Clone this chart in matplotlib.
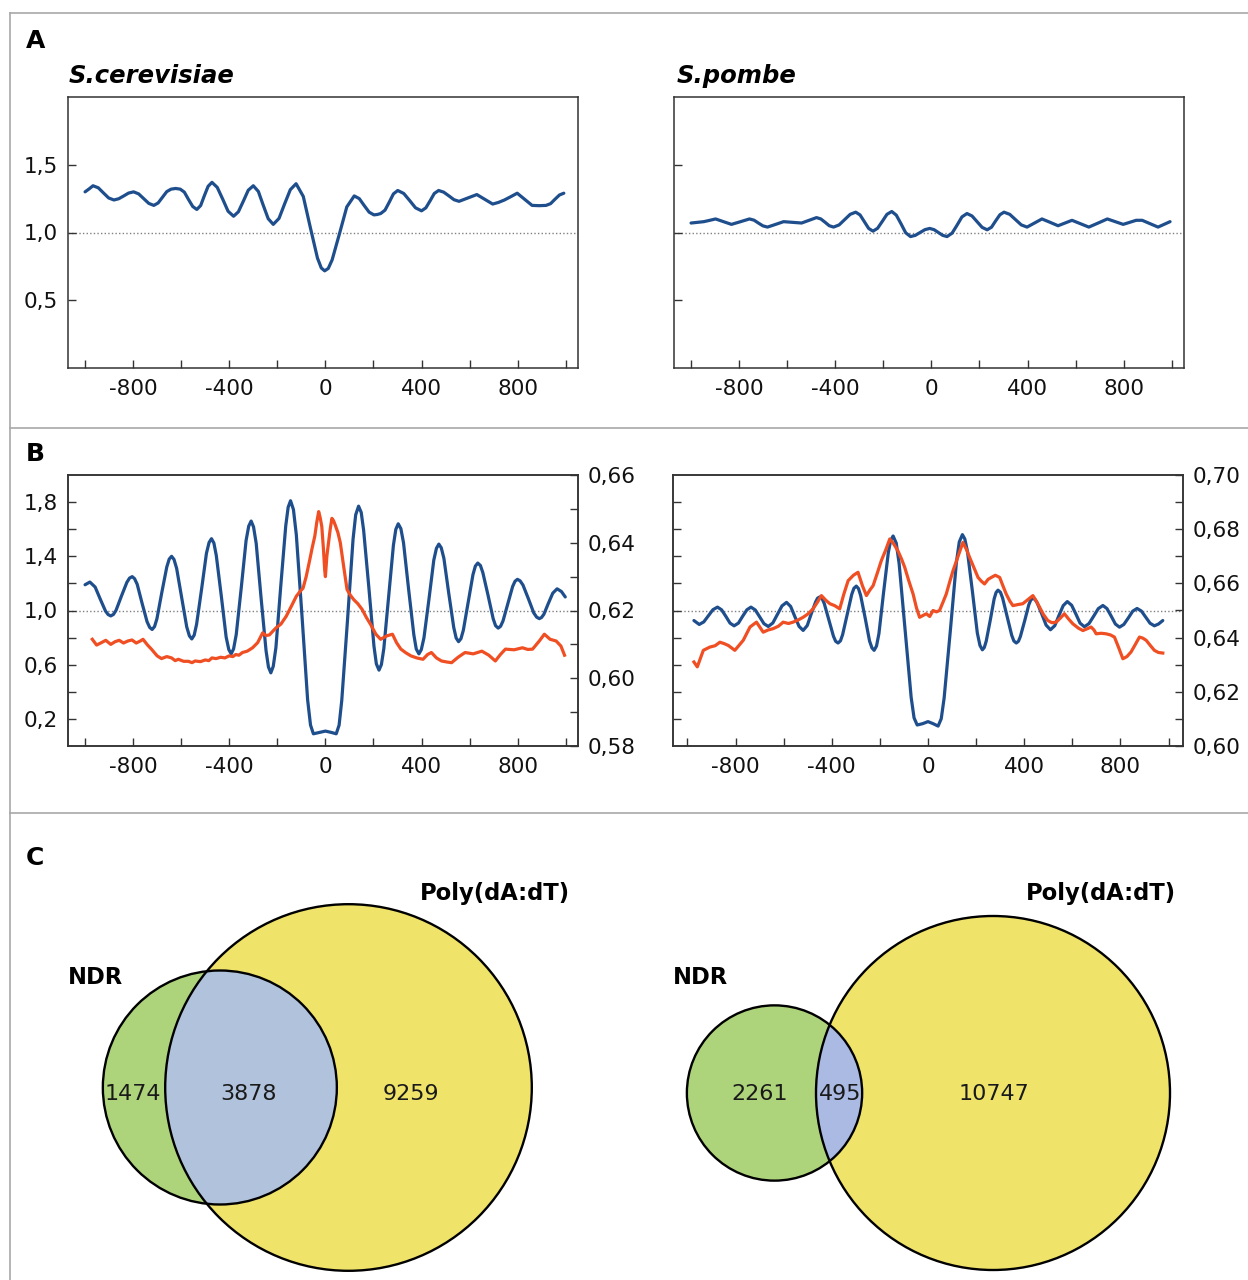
import numpy as np
import matplotlib
matplotlib.use('Agg')
import matplotlib.pyplot as plt
from matplotlib.patches import Circle

plt.rcParams['font.family'] = ['DejaVu Sans']

# ---------------- DATA ----------------
# Panel A, S.cerevisiae (position in bp, relative occupancy)
a_sc_x = [-1000, -983, -967, -945, -924, -902, -880, -860, -839, -819,
          -798, -777, -756, -735, -714, -696, -678, -660, -642, -623,
          -604, -587, -570, -552, -535, -519, -504, -488, -472, -450,
          -427, -405, -382, -362, -341, -321, -300, -279, -259, -238,
          -217, -193, -170, -146, -122, -92, -63, -33, -17, -3,
          12, 28, 59, 89, 120, 141, 161, 182, 202, 216,
          230, 248, 266, 283, 301, 326, 351, 375, 400, 418,
          436, 453, 471, 492, 514, 535, 556, 593, 630, 663,
          696, 720, 745, 772, 798, 829, 860, 890, 918, 937,
          955, 974, 992]
a_sc_y = [1.30, 1.322, 1.345, 1.330, 1.293, 1.255, 1.240, 1.249, 1.270, 1.291,
          1.300, 1.285, 1.250, 1.215, 1.200, 1.218, 1.260, 1.302, 1.320, 1.325,
          1.320, 1.298, 1.245, 1.192, 1.170, 1.199, 1.270, 1.341, 1.370, 1.333,
          1.245, 1.157, 1.120, 1.153, 1.233, 1.312, 1.345, 1.303, 1.203, 1.102,
          1.060, 1.104, 1.210, 1.316, 1.360, 1.266, 1.039, 0.811, 0.738, 0.717,
          0.735, 0.798, 0.994, 1.189, 1.270, 1.250, 1.200, 1.150, 1.130, 1.133,
          1.140, 1.165, 1.225, 1.285, 1.310, 1.288, 1.235, 1.182, 1.160, 1.182,
          1.235, 1.288, 1.310, 1.298, 1.270, 1.242, 1.230, 1.255, 1.280, 1.245,
          1.210, 1.222, 1.240, 1.265, 1.290, 1.245, 1.200, 1.198, 1.200, 1.213,
          1.245, 1.277, 1.290]

# Panel A, S.pombe
a_sp_x = [-1000, -973, -947, -922, -898, -865, -832, -794, -757, -738,
          -720, -701, -682, -648, -615, -578, -540, -509, -478, -460,
          -442, -425, -407, -384, -361, -338, -315, -297, -279, -261,
          -243, -224, -204, -185, -165, -146, -126, -107, -87, -67,
          -47, -27, -7, 11, 29, 47, 65, 86, 107, 127,
          148, 169, 190, 211, 232, 250, 267, 285, 302, 326,
          350, 374, 398, 429, 460, 494, 527, 556, 585, 620,
          655, 694, 732, 765, 798, 825, 852, 877, 910, 943,
          968, 993]
a_sp_y = [1.07, 1.075, 1.08, 1.09, 1.10, 1.08, 1.06, 1.08, 1.10, 1.091,
          1.07, 1.049, 1.04, 1.06, 1.08, 1.075, 1.07, 1.09, 1.11, 1.10,
          1.075, 1.05, 1.04, 1.056, 1.095, 1.134, 1.15, 1.13, 1.08, 1.03,
          1.01, 1.031, 1.083, 1.134, 1.155, 1.128, 1.063, 0.998, 0.97, 0.979,
          1.00, 1.021, 1.03, 1.021, 1.00, 0.979, 0.97, 0.995, 1.055, 1.115,
          1.14, 1.122, 1.08, 1.038, 1.02, 1.039, 1.085, 1.131, 1.15, 1.134,
          1.095, 1.056, 1.04, 1.07, 1.10, 1.075, 1.05, 1.07, 1.09, 1.065,
          1.04, 1.07, 1.10, 1.08, 1.06, 1.075, 1.09, 1.09, 1.065, 1.04,
          1.06, 1.08]

# Panel B, S.cerevisiae nucleosome occupancy (left axis)
b_sc_nuc_x = [-1000, -980, -958, -937, -915, -904, -893, -882, -871, -849,
              -826, -815, -804, -794, -783, -763, -742, -731, -721, -711,
              -701, -681, -660, -650, -640, -630, -619, -598, -577, -566,
              -556, -546, -536, -515, -495, -484, -474, -464, -454, -433,
              -413, -402, -392, -382, -371, -350, -330, -319, -309, -299,
              -288, -268, -247, -237, -227, -217, -206, -186, -165, -155,
              -145, -133, -121, -97, -74, -62, -50, -25, 0, 25,
              45, 57, 68, 92, 115, 126, 138, 149, 159, 181,
              202, 212, 223, 233, 243, 263, 283, 293, 303, 314,
              325, 346, 368, 378, 389, 399, 410, 431, 451, 462,
              472, 482, 493, 513, 534, 544, 554, 564, 574, 594,
              614, 624, 634, 645, 655, 677, 698, 708, 719, 729,
              739, 759, 779, 789, 799, 810, 822, 845, 867, 879,
              890, 899, 909, 927, 946, 964, 982, 998]
b_sc_nuc_y = [1.19, 1.21, 1.173, 1.085, 0.996, 0.97, 0.96, 0.971, 1.002, 1.105,
              1.208, 1.239, 1.25, 1.235, 1.193, 1.055, 0.917, 0.875, 0.86, 0.881,
              0.939, 1.13, 1.321, 1.379, 1.40, 1.377, 1.311, 1.095, 0.879, 0.813,
              0.79, 0.818, 0.898, 1.16, 1.422, 1.502, 1.53, 1.498, 1.406, 1.105,
              0.804, 0.712, 0.68, 0.717, 0.823, 1.17, 1.517, 1.623, 1.66, 1.617,
              1.496, 1.10, 0.704, 0.583, 0.54, 0.588, 0.725, 1.175, 1.625, 1.762,
              1.81, 1.745, 1.559, 0.95, 0.341, 0.155, 0.09, 0.10, 0.11, 0.10,
              0.09, 0.154, 0.335, 0.93, 1.525, 1.706, 1.77, 1.724, 1.593, 1.165,
              0.737, 0.606, 0.56, 0.601, 0.718, 1.10, 1.482, 1.599, 1.64, 1.604,
              1.50, 1.16, 0.82, 0.716, 0.68, 0.711, 0.798, 1.085, 1.372, 1.459,
              1.49, 1.463, 1.385, 1.13, 0.875, 0.797, 0.77, 0.792, 0.855, 1.06,
              1.265, 1.328, 1.35, 1.332, 1.28, 1.11, 0.94, 0.888, 0.87, 0.884,
              0.923, 1.05, 1.177, 1.216, 1.23, 1.219, 1.188, 1.085, 0.982, 0.951,
              0.94, 0.948, 0.972, 1.05, 1.128, 1.16, 1.14, 1.10]

# Panel B, S.cerevisiae AT content (right axis)
b_sc_at_x = [-970, -952, -935, -914, -893, -875, -858, -840, -822, -805,
             -787, -770, -759, -740, -724, -700, -682, -660, -640, -625,
             -612, -590, -570, -555, -542, -520, -500, -485, -472, -455,
             -436, -418, -401, -385, -373, -360, -345, -325, -303, -282,
             -261, -247, -233, -220, -205, -185, -163, -140, -121, -107,
             -93, -80, -65, -55, -44, -36, -28, -22, -15, -8,
             -3, 0, 3, 6, 13, 20, 27, 34, 41, 52,
             62, 76, 90, 104, 118, 135, 153, 170, 188, 210,
             230, 255, 279, 296, 314, 335, 356, 380, 406, 425,
             441, 462, 483, 505, 525, 552, 581, 615, 651, 680,
             707, 728, 749, 785, 820, 842, 862, 890, 911, 935,
             960, 980, 995]
b_sc_at_y = [0.6115, 0.6098, 0.6104, 0.6112, 0.6100, 0.6108, 0.6112, 0.6104, 0.6110, 0.6113,
             0.6104, 0.6110, 0.6115, 0.6098, 0.6086, 0.6066, 0.6058, 0.6064, 0.6060, 0.6052,
             0.6056, 0.6050, 0.6050, 0.6046, 0.6051, 0.6049, 0.6054, 0.6052, 0.6060, 0.6058,
             0.6062, 0.6060, 0.6066, 0.6064, 0.6070, 0.6068, 0.6076, 0.6080, 0.6090, 0.6105,
             0.6134, 0.6126, 0.6128, 0.6138, 0.6149, 0.6160, 0.6183, 0.6215, 0.6242, 0.6255,
             0.6266, 0.6300, 0.6350, 0.6385, 0.6420, 0.6460, 0.6492, 0.6475, 0.6448, 0.6380,
             0.6320, 0.6300, 0.6330, 0.6360, 0.6400, 0.6440, 0.6472, 0.6465, 0.6452, 0.6430,
             0.6400, 0.6330, 0.6262, 0.6245, 0.6232, 0.6220, 0.6203, 0.6180, 0.6159, 0.6130,
             0.6115, 0.6125, 0.6130, 0.6105, 0.6086, 0.6075, 0.6066, 0.6060, 0.6056, 0.6070,
             0.6076, 0.6060, 0.6051, 0.6048, 0.6046, 0.6062, 0.6076, 0.6072, 0.6080, 0.6068,
             0.6051, 0.6070, 0.6086, 0.6084, 0.6090, 0.6085, 0.6086, 0.6110, 0.6130, 0.6115,
             0.6110, 0.6095, 0.6068]

# Panel B, S.pombe nucleosome occupancy (left axis)
b_sp_nuc_x = [-973, -951, -932, -913, -894, -875, -858, -840, -823, -806,
              -788, -771, -753, -736, -718, -700, -682, -664, -645, -626,
              -607, -588, -571, -554, -536, -519, -502, -485, -467, -459,
              -450, -440, -431, -412, -393, -384, -374, -364, -355, -336,
              -317, -308, -298, -289, -280, -261, -243, -233, -224, -214,
              -204, -185, -165, -155, -145, -132, -120, -95, -70, -58,
              -45, -22, 0, 21, 42, 55, 67, 93, 118, 130,
              143, 153, 164, 185, 205, 216, 226, 234, 242, 259,
              275, 283, 291, 301, 310, 329, 348, 357, 367, 376,
              384, 402, 419, 427, 436, 445, 454, 473, 491, 509,
              527, 544, 562, 579, 597, 615, 632, 650, 669, 689,
              708, 727, 744, 762, 779, 796, 814, 833, 851, 869,
              887, 905, 923, 941, 958, 976]
b_sp_nuc_y = [0.926, 0.897, 0.916, 0.961, 1.006, 1.025, 1.005, 0.956, 0.907, 0.887,
              0.907, 0.956, 1.005, 1.025, 1.004, 0.954, 0.903, 0.882, 0.908, 0.971,
              1.034, 1.06, 1.03, 0.957, 0.883, 0.853, 0.889, 0.977, 1.064, 1.091,
              1.10, 1.087, 1.05, 0.93, 0.81, 0.773, 0.76, 0.776, 0.821, 0.97,
              1.119, 1.164, 1.18, 1.162, 1.111, 0.943, 0.775, 0.724, 0.706, 0.738,
              0.829, 1.128, 1.427, 1.518, 1.55, 1.497, 1.346, 0.853, 0.359, 0.208,
              0.155, 0.165, 0.18, 0.165, 0.147, 0.201, 0.353, 0.854, 1.354, 1.506,
              1.56, 1.528, 1.436, 1.135, 0.834, 0.742, 0.71, 0.727, 0.774, 0.93,
              1.086, 1.133, 1.15, 1.135, 1.093, 0.955, 0.817, 0.775, 0.76, 0.773,
              0.808, 0.925, 1.042, 1.077, 1.09, 1.081, 1.056, 0.974, 0.892, 0.858,
              0.888, 0.962, 1.036, 1.066, 1.039, 0.973, 0.907, 0.88, 0.903, 0.959,
              1.014, 1.037, 1.014, 0.957, 0.9, 0.877, 0.897, 0.946, 0.995, 1.015,
              0.996, 0.951, 0.906, 0.887, 0.9, 0.926]

# Panel B, S.pombe AT content (right axis)
b_sp_at_x = [-973, -959, -934, -907, -885, -865, -848, -830, -803, -785,
             -768, -740, -713, -700, -685, -665, -644, -622, -602, -580,
             -561, -540, -519, -498, -478, -460, -443, -425, -408, -388,
             -367, -350, -332, -310, -291, -272, -256, -242, -228, -210,
             -194, -175, -159, -142, -125, -110, -97, -80, -62, -48,
             -35, -20, -7, 7, 21, 35, 48, 62, 76, 90,
             104, 125, 145, 160, 173, 190, 208, 222, 235, 250,
             263, 280, 298, 312, 325, 340, 353, 374, 394, 415,
             436, 450, 464, 480, 498, 515, 533, 550, 567, 585,
             602, 625, 644, 660, 678, 690, 699, 720, 740, 758,
             775, 793, 810, 827, 844, 862, 879, 893, 907, 925,
             941, 958, 976]
b_sp_at_y = [0.6310, 0.6292, 0.6353, 0.6365, 0.6370, 0.6383, 0.6378, 0.6371, 0.6353, 0.6372,
             0.6390, 0.6439, 0.6457, 0.6440, 0.6420, 0.6428, 0.6433, 0.6442, 0.6457, 0.6452,
             0.6457, 0.6465, 0.6475, 0.6488, 0.6506, 0.6530, 0.6555, 0.6538, 0.6525, 0.6518,
             0.6506, 0.6560, 0.6610, 0.6630, 0.6641, 0.6590, 0.6555, 0.6575, 0.6592, 0.6640,
             0.6684, 0.6725, 0.6764, 0.6745, 0.6720, 0.6690, 0.6660, 0.6610, 0.6561, 0.6510,
             0.6475, 0.6482, 0.6488, 0.6478, 0.6500, 0.6495, 0.6500, 0.6530, 0.6561, 0.6605,
             0.6647, 0.6700, 0.6751, 0.6725, 0.6696, 0.6660, 0.6622, 0.6608, 0.6598, 0.6615,
             0.6622, 0.6630, 0.6622, 0.6590, 0.6561, 0.6535, 0.6518, 0.6522, 0.6525, 0.6540,
             0.6555, 0.6535, 0.6512, 0.6485, 0.6463, 0.6455, 0.6457, 0.6472, 0.6488, 0.6468,
             0.6451, 0.6435, 0.6426, 0.6432, 0.6439, 0.6428, 0.6414, 0.6416, 0.6414, 0.6410,
             0.6402, 0.6362, 0.6322, 0.6330, 0.6347, 0.6375, 0.6402, 0.6398, 0.6390, 0.6370,
             0.6353, 0.6345, 0.6343]

# Panel C, Venn counts: [NDR only, overlap, Poly(dA:dT) only]
venn_sc = [1474, 3878, 9259]
venn_sp = [2261, 495, 10747]

species = ['S.cerevisiae', 'S.pombe']
x_ticks = list(range(-1000, 1001, 200))

# ---------------- STYLE ----------------
W, H = 1248, 1280
BLUE = '#1f4e8d'
RED = '#f04e23'
SPINE = '#333333'
GREEN = '#aed47b'
YELLOW = '#f0e36a'

fig = plt.figure(figsize=(W / 100, H / 100), dpi=100)

ov = fig.add_axes([0, 0, 1, 1])
ov.set_xlim(0, W)
ov.set_ylim(H, 0)
ov.axis('off')


def px_axes(x0, y0, x1, y1):
    return fig.add_axes([x0 / W, 1 - y1 / H, (x1 - x0) / W, (y1 - y0) / H])


def style(ax):
    for s in ax.spines.values():
        s.set_color(SPINE)
        s.set_linewidth(1.1)
    ax.tick_params(direction='in', length=6, width=1.0, color=SPINE,
                   labelsize=15.5, labelcolor='#111111')
    ax.tick_params(axis='x', pad=8)
    ax.tick_params(axis='y', pad=7)


def comma(v, nd):
    return f"{v:.{nd}f}".replace('.', ',')


def setup_x(ax, xlim):
    ax.set_xlim(*xlim)
    ax.set_xticks(x_ticks)
    ax.set_xticklabels([str(v) if v % 400 == 0 else '' for v in x_ticks])


# borders
bc = '#a8a8a8'
ov.plot([10, W], [12.7, 12.7], color=bc, lw=1.2)
ov.plot([10, 10], [12.7, H], color=bc, lw=1.2)
ov.plot([10, W], [428, 428], color=bc, lw=1.2)
ov.plot([10, W], [813, 813], color=bc, lw=1.2)

# panel letters
for lab, yb in [('A', 48), ('B', 461), ('C', 865)]:
    ov.text(26, yb, lab, fontsize=18, fontweight='bold', va='baseline', ha='left')

# titles
ov.text(69, 83, species[0], fontsize=17.5, fontweight='bold', fontstyle='italic',
        va='baseline', ha='left')
ov.text(677, 83, species[1], fontsize=17.5, fontweight='bold', fontstyle='italic',
        va='baseline', ha='left')

# ---------------- PANEL A ----------------
axA1 = px_axes(68, 97, 578, 368)
axA2 = px_axes(674, 97, 1184, 368)
for ax, xs, ys, lbl in [(axA1, a_sc_x, a_sc_y, True), (axA2, a_sp_x, a_sp_y, False)]:
    style(ax)
    ax.axhline(1.0, color='#808080', lw=1.0, ls=(0, (1, 1.6)), zorder=1)
    ax.plot(xs, ys, color=BLUE, lw=2.3, solid_capstyle='round',
            solid_joinstyle='round', zorder=3)
    ax.set_ylim(0, 2)
    setup_x(ax, (-1071, 1051))
    ax.set_yticks([0.5, 1.0, 1.5])
    if lbl:
        ax.set_yticklabels([comma(v, 1) for v in [0.5, 1.0, 1.5]])
    else:
        ax.tick_params(axis='y', labelleft=False)

# ---------------- PANEL B ----------------
axB1 = px_axes(68, 475, 578, 746)
axB2 = px_axes(673, 475, 1183, 746)
left_ticks = [0.2, 0.4, 0.6, 0.8, 1.0, 1.2, 1.4, 1.6, 1.8]
for ax, nx, ny, ax_, ay_, xlim, rlim, lbl in [
        (axB1, b_sc_nuc_x, b_sc_nuc_y, b_sc_at_x, b_sc_at_y, (-1071, 1051), (0.58, 0.66), True),
        (axB2, b_sp_nuc_x, b_sp_nuc_y, b_sp_at_x, b_sp_at_y, (-1060, 1060), (0.60, 0.70), False)]:
    style(ax)
    ax.axhline(1.0, color='#808080', lw=1.0, ls=(0, (1, 1.6)), zorder=1)
    ax.plot(nx, ny, color=BLUE, lw=2.3, solid_capstyle='round',
            solid_joinstyle='round', zorder=3)
    ax.set_ylim(0, 2)
    setup_x(ax, xlim)
    ax.set_yticks(left_ticks)
    if lbl:
        ax.set_yticklabels([comma(v, 1) if i % 2 == 0 else '' for i, v in enumerate(left_ticks)])
    else:
        ax.tick_params(axis='y', labelleft=False)
    tw = ax.twinx()
    style(tw)
    tw.plot(ax_, ay_, color=RED, lw=2.3, solid_joinstyle='round', zorder=3)
    tw.set_ylim(*rlim)
    rt = [round(rlim[0] + 0.01 * i, 2) for i in range(int(round((rlim[1] - rlim[0]) / 0.01)) + 1)]
    tw.set_yticks(rt)
    tw.set_yticklabels([comma(v, 2) if i % 2 == 0 else '' for i, v in enumerate(rt)])
    tw.set_xlim(*xlim)

# ---------------- PANEL C (Venn) ----------------


def lens_area(r1, r2, d):
    if d >= r1 + r2:
        return 0.0
    if d <= abs(r1 - r2):
        return np.pi * min(r1, r2) ** 2
    a1 = np.arccos((d * d + r1 * r1 - r2 * r2) / (2 * d * r1))
    a2 = np.arccos((d * d + r2 * r2 - r1 * r1) / (2 * d * r2))
    k = np.sqrt((-d + r1 + r2) * (d + r1 - r2) * (d - r1 + r2) * (d + r1 + r2))
    return r1 * r1 * a1 + r2 * r2 * a2 - 0.5 * k


def venn(counts, cx_big, cy, R, blue, num_x, num_y, ndr_pos, poly_pos):
    only_a, both, only_b = counts
    na, nb = only_a + both, only_b + both
    r = R * np.sqrt(na / nb)
    target = both / na * np.pi * r * r
    lo, hi = abs(R - r), R + r
    for _ in range(80):
        mid = 0.5 * (lo + hi)
        if lens_area(r, R, mid) > target:
            lo = mid
        else:
            hi = mid
    d = 0.5 * (lo + hi)
    cx_small = cx_big - d
    g = Circle((cx_small, cy), r, facecolor=GREEN, edgecolor='none', zorder=1)
    y = Circle((cx_big, cy), R, facecolor=YELLOW, edgecolor='none', zorder=2)
    ov.add_patch(g)
    ov.add_patch(y)
    inter = Circle((cx_small, cy), r, facecolor=blue, edgecolor='none', zorder=3)
    ov.add_patch(inter)
    inter.set_clip_path(y)
    ov.add_patch(Circle((cx_small, cy), r, fill=False, edgecolor='black', lw=1.7, zorder=4))
    ov.add_patch(Circle((cx_big, cy), R, fill=False, edgecolor='black', lw=1.7, zorder=4))
    for xv, c in zip(num_x, counts):
        ov.text(xv, num_y, str(c), fontsize=16, ha='center', va='baseline',
                color='#1a1a1a', zorder=5)
    ov.text(ndr_pos[0], ndr_pos[1], 'NDR', fontsize=16.3, fontweight='bold',
            ha='left', va='baseline', zorder=5)
    ov.text(poly_pos[0], poly_pos[1], 'Poly(dA:dT)', fontsize=16.3, fontweight='bold',
            ha='left', va='baseline', zorder=5)


venn(venn_sc, 348.5, 1087.5, 183.3, '#b1c3dc', [132.5, 249, 411], 1100.5, (68, 984), (420, 900))
venn(venn_sp, 993, 1093, 177, '#aabae2', [760, 840, 994], 1100.5, (673, 984), (1026, 900))

fig.savefig('out.png', dpi=100)
